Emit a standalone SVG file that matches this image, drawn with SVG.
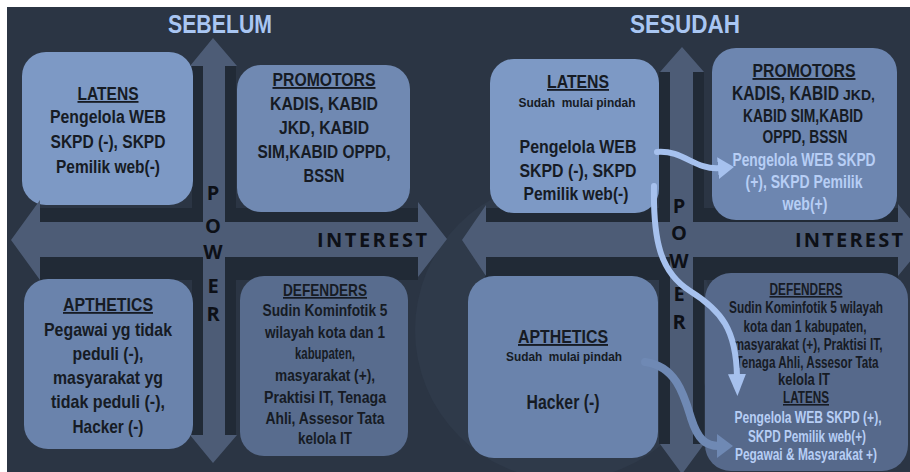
<svg xmlns="http://www.w3.org/2000/svg" width="910" height="472" viewBox="0 0 910 472">
<style>
.t{font-family:"Liberation Sans",Arial,sans-serif;font-weight:bold;fill:#161b24;text-anchor:middle}
.s{text-anchor:start}
.lt{fill:#b7cef5}
.u{text-decoration:underline}
.ttl{font-family:"Liberation Sans",Arial,sans-serif;font-weight:bold;fill:#a9c6f2;text-anchor:middle;font-size:26px}
.ax{font-family:"Open Sans","DejaVu Sans",sans-serif;font-weight:700;fill:#0d1017;text-anchor:middle;font-size:20px}
.band{fill:#212a36}
.arr{fill:#4d5c76}
.c1{fill:none;stroke:#a6c1ee;stroke-width:6;stroke-linecap:round}
.c2{fill:none;stroke:#6f89b4;stroke-width:8;stroke-linecap:round}
</style>
<defs>
<marker id="ha" markerUnits="userSpaceOnUse" viewBox="0 0 16 22" markerWidth="16" markerHeight="22" refX="2" refY="11" orient="auto"><path d="M0,0 L16,11 L0,22 Z" fill="#a6c1ee"/></marker>
<marker id="hb" markerUnits="userSpaceOnUse" viewBox="0 0 22 18" markerWidth="22" markerHeight="18" refX="2" refY="9" orient="auto"><path d="M0,0 L22,9 L0,18 Z" fill="#a6c1ee"/></marker>
<marker id="hc" markerUnits="userSpaceOnUse" viewBox="0 0 16 24" markerWidth="16" markerHeight="24" refX="2" refY="12" orient="auto"><path d="M0,0 L16,12 L0,24 Z" fill="#6f89b4"/></marker>
</defs>
<rect x="0" y="0" width="910" height="472" fill="#ffffff"/>
<rect x="7" y="7" width="903" height="465" fill="#2b3544"/>
<circle cx="565" cy="330" r="150" fill="#2f3a4a"/>

<g id="axes">
<rect class="band" x="40" y="208" width="378" height="72"/>
<rect class="band" x="192" y="66" width="44" height="369"/>
<rect class="band" x="485" y="208" width="413" height="72"/>
<rect class="band" x="659" y="72" width="45" height="372"/>
</g>

<g id="sebelum-title"><text class="ttl" x="220" y="33" textLength="104" lengthAdjust="spacingAndGlyphs">SEBELUM</text></g>
<g id="sesudah-title"><text class="ttl" x="685" y="33" textLength="110" lengthAdjust="spacingAndGlyphs">SESUDAH</text></g>

<g id="latens-1">
<rect x="22" y="52" width="171" height="153" rx="24" fill="#7d99c5"/>
<text class="t u" x="108" y="100" font-size="18" textLength="61" lengthAdjust="spacingAndGlyphs">LATENS</text>
<text class="t" x="108" y="123" font-size="18" textLength="116" lengthAdjust="spacingAndGlyphs">Pengelola WEB</text>
<text class="t" x="108" y="148" font-size="18" textLength="115" lengthAdjust="spacingAndGlyphs">SKPD (-), SKPD</text>
<text class="t" x="108" y="173" font-size="18" textLength="104" lengthAdjust="spacingAndGlyphs">Pemilik web(-)</text>
</g>

<g id="promotors-1">
<rect x="237" y="65" width="173" height="147" rx="24" fill="#7089b2"/>
<text class="t u" x="324" y="86" font-size="19" textLength="103" lengthAdjust="spacingAndGlyphs">PROMOTORS</text>
<text class="t" x="324" y="110" font-size="19" textLength="108" lengthAdjust="spacingAndGlyphs">KADIS, KABID</text>
<text class="t" x="324" y="134" font-size="19" textLength="90" lengthAdjust="spacingAndGlyphs">JKD, KABID</text>
<text class="t" x="324" y="158" font-size="19" textLength="133" lengthAdjust="spacingAndGlyphs">SIM,KABID OPPD,</text>
<text class="t" x="324" y="182" font-size="19" textLength="41" lengthAdjust="spacingAndGlyphs">BSSN</text>
</g>

<g id="apthetics-1">
<rect x="24" y="279" width="169" height="170" rx="24" fill="#6a83ac"/>
<text class="t u" x="108" y="311" font-size="18" textLength="90" lengthAdjust="spacingAndGlyphs">APTHETICS</text>
<text class="t" x="108" y="336" font-size="19" textLength="128" lengthAdjust="spacingAndGlyphs">Pegawai yg tidak</text>
<text class="t" x="108" y="360" font-size="19" textLength="71" lengthAdjust="spacingAndGlyphs">peduli (-),</text>
<text class="t" x="108" y="384" font-size="19" textLength="110" lengthAdjust="spacingAndGlyphs">masyarakat yg</text>
<text class="t" x="108" y="408" font-size="19" textLength="114" lengthAdjust="spacingAndGlyphs">tidak peduli (-),</text>
<text class="t" x="108" y="433" font-size="19" textLength="71" lengthAdjust="spacingAndGlyphs">Hacker (-)</text>
</g>

<g id="defenders-1">
<rect x="240" y="276" width="168" height="180" rx="24" fill="#586c8e"/>
<text class="t u" x="325" y="296" font-size="17" textLength="84" lengthAdjust="spacingAndGlyphs">DEFENDERS</text>
<text class="t" x="325" y="316" font-size="16" textLength="125" lengthAdjust="spacingAndGlyphs">Sudin Kominfotik 5</text>
<text class="t" x="325" y="338" font-size="16" textLength="120" lengthAdjust="spacingAndGlyphs">wilayah kota dan 1</text>
<text class="t" x="325" y="359" font-size="16" textLength="60" lengthAdjust="spacingAndGlyphs">kabupaten,</text>
<text class="t" x="325" y="381" font-size="16" textLength="100" lengthAdjust="spacingAndGlyphs">masyarakat (+),</text>
<text class="t" x="325" y="403" font-size="16" textLength="122" lengthAdjust="spacingAndGlyphs">Praktisi IT, Tenaga</text>
<text class="t" x="325" y="424" font-size="16" textLength="119" lengthAdjust="spacingAndGlyphs">Ahli, Assesor Tata</text>
<text class="t" x="325" y="444" font-size="16" textLength="54" lengthAdjust="spacingAndGlyphs">kelola IT</text>
</g>

<g id="latens-2">
<rect x="490" y="59" width="169" height="154" rx="24" fill="#7d99c5"/>
<text class="t u" x="578" y="88" font-size="18" textLength="62" lengthAdjust="spacingAndGlyphs">LATENS</text>
<text class="t" x="577" y="107" font-size="13" textLength="117" lengthAdjust="spacingAndGlyphs" xml:space="preserve">Sudah  mulai pindah</text>
<text class="t" x="578" y="153" font-size="18" textLength="117" lengthAdjust="spacingAndGlyphs">Pengelola WEB</text>
<text class="t" x="578" y="177" font-size="18" textLength="117" lengthAdjust="spacingAndGlyphs">SKPD (-), SKPD</text>
<text class="t" x="576" y="200" font-size="18" textLength="105" lengthAdjust="spacingAndGlyphs">Pemilik web(-)</text>
</g>

<g id="promotors-2">
<rect x="712" y="48" width="185" height="172" rx="24" fill="#6d86b0"/>
<text class="t u" x="804" y="77" font-size="19" textLength="103" lengthAdjust="spacingAndGlyphs">PROMOTORS</text>
<text class="t s" x="732" y="100" font-size="21" textLength="107" lengthAdjust="spacingAndGlyphs">KADIS, KABID</text>
<text class="t s" x="843" y="100" font-size="15" textLength="32" lengthAdjust="spacingAndGlyphs">JKD,</text>
<text class="t" x="803" y="122" font-size="18" textLength="120" lengthAdjust="spacingAndGlyphs">KABID SIM,KABID</text>
<text class="t" x="805" y="143" font-size="18" textLength="85" lengthAdjust="spacingAndGlyphs">OPPD, BSSN</text>
<text class="t lt" x="804" y="166" font-size="18" textLength="143" lengthAdjust="spacingAndGlyphs">Pengelola WEB SKPD</text>
<text class="t lt" x="804" y="188" font-size="18" textLength="117" lengthAdjust="spacingAndGlyphs">(+), SKPD Pemilik</text>
<text class="t lt" x="805" y="210" font-size="18" textLength="45" lengthAdjust="spacingAndGlyphs">web(+)</text>
</g>

<g id="apthetics-2">
<rect x="468" y="276" width="190" height="182" rx="26" fill="#6a83ac"/>
<text class="t u" x="563" y="343" font-size="19" textLength="90" lengthAdjust="spacingAndGlyphs">APTHETICS</text>
<text class="t" x="564" y="361" font-size="13" textLength="116" lengthAdjust="spacingAndGlyphs" xml:space="preserve">Sudah  mulai pindah</text>
<text class="t" x="563" y="409" font-size="20" textLength="73" lengthAdjust="spacingAndGlyphs">Hacker (-)</text>
</g>

<g id="defenders-2">
<rect x="705" y="273" width="203" height="198" rx="26" fill="#56698b"/>
<text class="t u" x="806" y="295" font-size="16" textLength="73" lengthAdjust="spacingAndGlyphs">DEFENDERS</text>
<text class="t" x="806" y="313" font-size="16" textLength="154" lengthAdjust="spacingAndGlyphs">Sudin Kominfotik 5 wilayah</text>
<text class="t" x="805" y="332" font-size="16" textLength="123" lengthAdjust="spacingAndGlyphs">kota dan 1 kabupaten,</text>
<text class="t" x="808" y="350" font-size="16" textLength="149" lengthAdjust="spacingAndGlyphs">masyarakat (+), Praktisi IT,</text>
<text class="t" x="807" y="368" font-size="16" textLength="143" lengthAdjust="spacingAndGlyphs">Tenaga Ahli, Assesor Tata</text>
<text class="t" x="804" y="385" font-size="16" textLength="52" lengthAdjust="spacingAndGlyphs">kelola IT</text>
<text class="t u" x="806" y="403" font-size="16" textLength="46" lengthAdjust="spacingAndGlyphs">LATENS</text>
<text class="t lt" x="808" y="423" font-size="16" textLength="147" lengthAdjust="spacingAndGlyphs">Pengelola WEB SKPD (+),</text>
<text class="t lt" x="807" y="442" font-size="16" textLength="118" lengthAdjust="spacingAndGlyphs">SKPD Pemilik web(+)</text>
<text class="t lt" x="806" y="460" font-size="16" textLength="142" lengthAdjust="spacingAndGlyphs">Pegawai &amp; Masyarakat +)</text>
</g>

<g id="interest-power-axes">
<path class="arr" d="M11,240 L40,200 L40,222 L418,222 L418,202 L447,239 L418,277 L418,257 L40,257 L40,280 Z"/>
<path class="arr" d="M213,38 L237,66 L225,66 L225,435 L237,435 L213,463 L190,435 L203,435 L203,66 L190,66 Z"/>
<path class="arr" d="M462,240 L486,205 L486,222 L898,222 L898,204 L928,240 L898,276 L898,257 L486,257 L486,276 Z"/>
<path class="arr" d="M682,47 L704,72 L693,72 L693,444 L704,444 L682,474 L660,444 L670,444 L670,72 L660,72 Z"/>
<text class="ax" x="372" y="247" textLength="110" lengthAdjust="spacing">INTEREST</text>
<text class="ax" x="849" y="247" textLength="108" lengthAdjust="spacing">INTEREST</text>
<text class="ax" x="213" y="200">P</text>
<text class="ax" x="213" y="233">O</text>
<text class="ax" x="213" y="259">W</text>
<text class="ax" x="213" y="293">E</text>
<text class="ax" x="213" y="321">R</text>
<text class="ax" x="679" y="213">P</text>
<text class="ax" x="679" y="240">O</text>
<text class="ax" x="679" y="268">W</text>
<text class="ax" x="679" y="301">E</text>
<text class="ax" x="679" y="329">R</text>
</g>

<g id="connectors">
<path class="c1" d="M657,152 C684,150 694,170 720,168" marker-end="url(#ha)"/>
<path class="c1" d="M654,186 C653,240 660,272 690,291 C722,311 736,330 737,376" marker-end="url(#hb)"/>
<path class="c2" d="M645,362 C676,366 684,395 691,418 C698,440 706,446 719,446" marker-end="url(#hc)"/>
</g>
</svg>
